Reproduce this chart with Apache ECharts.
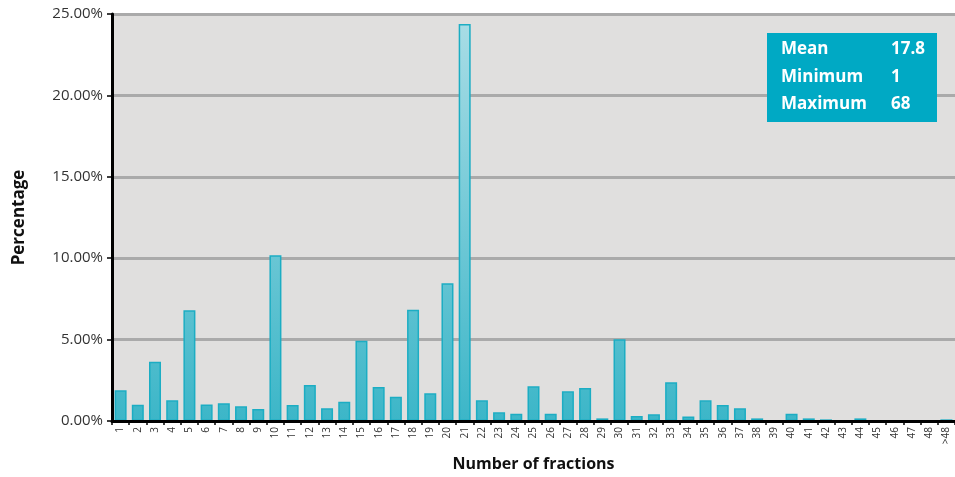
<!DOCTYPE html>
<html>
<head>
<meta charset="utf-8">
<script src="https://cdn.jsdelivr.net/npm/echarts@6/dist/echarts.min.js"></script>
<style>
html,body{margin:0;padding:0;background:#fff;}
#chart{width:955px;height:477px;}
</style>
</head>
<body>
<div id="chart"></div>
<script>
const categories = ['1','2','3','4','5','6','7','8','9','10','11','12','13','14','15','16','17','18','19','20','21','22','23','24','25','26','27','28','29','30','31','32','33','34','35','36','37','38','39','40','41','42','43','44','45','46','47','48','>48'];
const percentages = [1.89,1.0,3.64,1.27,6.8,1.02,1.09,0.9,0.74,10.18,0.98,2.21,0.78,1.19,4.93,2.09,1.49,6.84,1.7,8.46,24.39,1.27,0.53,0.45,2.13,0.45,1.82,2.03,0.16,5.02,0.31,0.41,2.38,0.27,1.27,0.98,0.78,0.16,0,0.45,0.16,0.1,0,0.16,0,0,0,0,0.1];
const yTicks = [0,5,10,15,20,25];
const statLabels = ['Mean','Minimum','Maximum'];
const statValues = ['17.8','1','68'];

const chart = echarts.init(document.getElementById('chart'));
const font = '"Open Sans", "Noto Sans", sans-serif';

const graphics = [{
  type:'rect', left:767, top:33, shape:{width:170,height:89},
  style:{fill:'#00a9c4'}, z:10
}];
statLabels.forEach((s,i)=>{
  graphics.push({type:'text', left:781, top:41+i*27.5, z:11,
    style:{text:s, fill:'#fff', font:'bold 17px '+font}});
  graphics.push({type:'text', left:891, top:41+i*27.5, z:11,
    style:{text:statValues[i], fill:'#fff', font:'bold 17px '+font}});
});

chart.setOption({
  animation:false,
  grid:{left:112, top:14, right:0, bottom:56, show:true, backgroundColor:'#e0dfde', borderWidth:0, outerBoundsMode:'none', containLabel:false},
  xAxis:{
    type:'category', data:categories, z:5,
    name:'Number of fractions', nameLocation:'middle', nameGap:35,
    nameTextStyle:{fontFamily:font, fontWeight:'bold', fontSize:16, color:'#111'},
    axisLine:{lineStyle:{color:'#000', width:3}},
    axisTick:{show:true, alignWithLabel:false, length:4, lineStyle:{color:'#000', width:1.5}},
    axisLabel:{rotate:90, fontSize:10, color:'#333', fontFamily:font, interval:0, margin:6}
  },
  yAxis:{
    type:'value', min:0, max:25, interval:5,
    name:'Percentage', nameLocation:'middle', nameGap:84,
    nameTextStyle:{fontFamily:font, fontWeight:'bold', fontSize:17, color:'#111'},
    axisLine:{show:true, lineStyle:{color:'#000', width:3}},
    axisTick:{show:true, length:5, lineStyle:{color:'#000', width:1.5}},
    axisLabel:{formatter:v=>v.toFixed(2)+'%', fontSize:15, color:'#333', fontFamily:font, margin:9},
    splitLine:{show:true, lineStyle:{color:'#aaaaaa', width:3}}
  },
  series:[{
    type:'bar', data:percentages, barWidth:12,
    itemStyle:{
      color:new echarts.graphic.LinearGradient(0,14,0,421,[
        {offset:0,color:'#aadde6'},{offset:1,color:'#3cb6c8'}], true),
      borderColor:'#1cadc3', borderWidth:1.5
    }
  }],
  graphic:graphics
});
</script>
</body>
</html>
